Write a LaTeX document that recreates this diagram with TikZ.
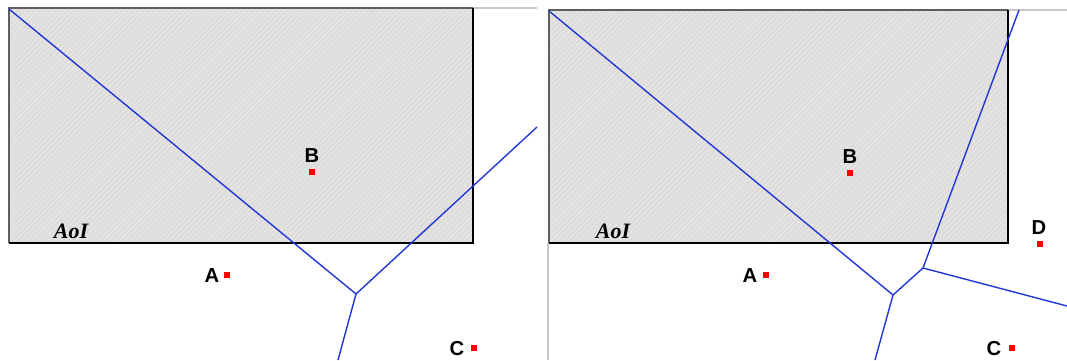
\documentclass[tikz,border=0pt]{standalone}
\usepackage{fontspec}
\setmainfont{Liberation Sans}
\newfontfamily\aoifont{Liberation Serif}
\usetikzlibrary{patterns.meta}
\definecolor{aoigrey}{RGB}{223,220,220}
\definecolor{hatchgrey}{RGB}{234,232,232}
\definecolor{edgeblue}{RGB}{35,55,215}
\definecolor{rimgrey}{RGB}{95,95,95}
\definecolor{guidegrey}{RGB}{200,200,200}
\tikzset{
  site/.style={fill=red, inner sep=0pt, minimum size=3.2pt},
  sitelabel/.style={font=\fontsize{11.5}{13}\selectfont\bfseries, inner sep=0pt},
  aoilabel/.style={font=\fontsize{12.5}{14}\aoifont\bfseries\itshape, inner sep=0pt},
  aoi/.style={fill=aoigrey, postaction={pattern={Lines[angle=45,distance=2.2pt,line width=0.5pt]}, pattern color=hatchgrey}},
  edge/.style={draw=edgeblue, line width=0.8pt},
  rimlight/.style={draw=rimgrey, line width=0.6pt},
  rimdark/.style={draw=black, line width=1.3pt},
  guide/.style={draw=guidegrey, line width=0.6pt},
}
\begin{document}
\begin{tikzpicture}[x=0.02cm,y=-0.02cm]
\useasboundingbox (0,0) rectangle (1067,360);

% left panel: A, B, C
\path[aoi] (9,8) rectangle (473,243);
\draw[guide] (473,8) -- (537,8);
\draw[rimlight] (9,243) -- (9,8) -- (473,8);
\draw[rimdark] (9,243) -- (473,243) -- (473,8);
\node[aoilabel] (aoi1) at (71,231) {AoI};

\coordinate (v1) at (356,294);
\coordinate (e1a) at (9,9);
\coordinate (e1b) at (537,127);
\coordinate (e1c) at (338,360);
\draw[edge] (e1a) -- (v1);
\draw[edge] (e1b) -- (v1);
\draw[edge] (v1) -- (e1c);

\node[site] (a1) at (227,275) {};
\node[sitelabel] (la1) at (212,276) {A};
\node[site] (b1) at (312,172) {};
\node[sitelabel] (lb1) at (312,156) {B};
\node[site] (c1) at (474,348) {};
\node[sitelabel] (lc1) at (457,349) {C};

% right panel: A, B, C, D
\path[aoi] (549,10) rectangle (1008,243);
\draw[guide] (1008,10) -- (1067,10);
\draw[guide] (548,243) -- (548,360);
\draw[rimlight] (549,243) -- (549,10) -- (1008,10);
\draw[rimdark] (549,243) -- (1008,243) -- (1008,10);
\node[aoilabel] (aoi2) at (613,231) {AoI};

\coordinate (v2) at (893,295);
\coordinate (v3) at (923,268);
\coordinate (e2a) at (549,11);
\coordinate (e2b) at (875,360);
\coordinate (e2c) at (1019,10);
\coordinate (e2d) at (1067,306);
\draw[edge] (e2a) -- (v2);
\draw[edge] (v2) -- (e2b);
\draw[edge] (v2) -- (v3);
\draw[edge] (v3) -- (e2c);
\draw[edge] (v3) -- (e2d);

\node[site] (a2) at (766,275) {};
\node[sitelabel] (la2) at (750,276) {A};
\node[site] (b2) at (850,173) {};
\node[sitelabel] (lb2) at (850,157) {B};
\node[site] (c2) at (1012,348) {};
\node[sitelabel] (lc2) at (994,349) {C};
\node[site] (d2) at (1040,244) {};
\node[sitelabel] (ld2) at (1039,228) {D};
\end{tikzpicture}
\end{document}
